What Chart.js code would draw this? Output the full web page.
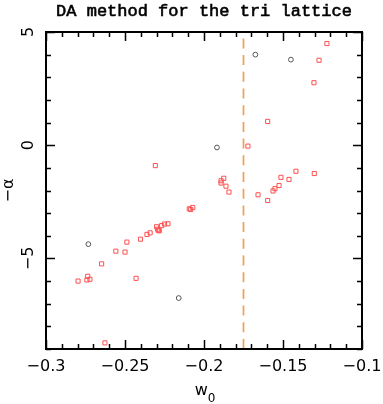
<!DOCTYPE html>
<html>
<head>
<meta charset="utf-8">
<script src="https://cdn.jsdelivr.net/npm/chart.js@4.4.1/dist/chart.umd.min.js"></script>
<style>
  html, body { margin: 0; padding: 0; background: #fff; }
  #wrap { width: 383px; height: 404px; }
</style>
</head>
<body>
<div id="wrap"><canvas id="daChart" width="383" height="404"></canvas></div>
<script>
// red squares
const squareW0 = [
  -0.1222, -0.1272, -0.1304, -0.1597, -0.1722, -0.1658, -0.1597, -0.1563, -0.1551, -0.1525,
  -0.1513, -0.1462, -0.1418, -0.1302, -0.1875, -0.1892, -0.1892, -0.1861, -0.1842, -0.2308,
  -0.2093, -0.2084, -0.2071, -0.2797, -0.2736, -0.2741, -0.2722, -0.2648, -0.2558, -0.2500,
  -0.2488, -0.2430, -0.2402, -0.2361, -0.2341, -0.2300, -0.2293, -0.2289, -0.2283, -0.2268,
  -0.2250, -0.2228, -0.2627
]
const squareAlpha = [
  4.49, 3.75, 2.76, 1.05, -0.04, -2.19, -2.44, -2.02, -1.92, -1.78,
  -1.42, -1.51, -1.15, -1.25, -1.46, -1.57, -1.67, -1.81, -2.07, -0.90,
  -2.81, -2.84, -2.75, -6.00, -5.79, -5.95, -5.92, -5.24, -4.68, -4.72,
  -4.28, -5.88, -4.15, -3.94, -3.87, -3.60, -3.71, -3.76, -3.78, -3.55,
  -3.48, -3.47, -8.73
]
// grey circles
const circleW0 = [-0.1675, -0.1450, -0.1918, -0.2732, -0.2160]
const circleAlpha = [4.00, 3.78, -0.10, -4.37, -6.75]

// vertical dashed line
const criticalW0 = -0.175

// axes
const xRange = [-0.3, -0.1]
const yRange = [-9, 5]
const xTickLabels = [-0.3, -0.25, -0.2, -0.15, -0.1]
const yTickLabels = [-5, 0, 5]
const xMinorStep = 0.01
const yMinorStep = 1

const toPoints = (xs, ys) => xs.map((x, i) => ({ x: x, y: ys[i] }))
const fmt = (v) => String(v).replace("-", "\u2212")

// cadre, graduations et textes
const framePlugin = {
  id: "frame",
  afterDraw(chart) {
    const ctx = chart.ctx
    const a = chart.chartArea
    const xs = chart.scales.x
    const ys = chart.scales.y
    ctx.save()
    ctx.strokeStyle = "#000"
    ctx.fillStyle = "#000"

    // ticks (inward, on all four sides)
    ctx.lineWidth = 1.5
    ctx.beginPath()
    const nx = Math.round((xRange[1] - xRange[0]) / xMinorStep)
    for (let i = 0; i <= nx; i++) {
      const v = xRange[0] + i * xMinorStep
      const major = xTickLabels.some((t) => Math.abs(t - v) < 1e-6)
      const len = major ? 9 : 5
      const px = Math.round(xs.getPixelForValue(v)) + 0.5
      ctx.moveTo(px, a.bottom); ctx.lineTo(px, a.bottom - len)
      ctx.moveTo(px, a.top); ctx.lineTo(px, a.top + len)
    }
    const ny = Math.round((yRange[1] - yRange[0]) / yMinorStep)
    for (let i = 0; i <= ny; i++) {
      const v = yRange[0] + i * yMinorStep
      const major = yTickLabels.includes(v)
      const len = major ? 9 : 5
      const py = Math.round(ys.getPixelForValue(v)) + 0.5
      ctx.moveTo(a.left, py); ctx.lineTo(a.left + len, py)
      ctx.moveTo(a.right, py); ctx.lineTo(a.right - len, py)
    }
    ctx.stroke()

    ctx.lineWidth = 2
    ctx.strokeRect(a.left, a.top, a.right - a.left, a.bottom - a.top)

    // x tick labels
    ctx.font = "16px 'DejaVu Sans'"
    ctx.textAlign = "center"
    ctx.textBaseline = "alphabetic"
    xTickLabels.forEach((t) => {
      ctx.fillText(fmt(t), xs.getPixelForValue(t), a.bottom + 22)
    })

    // y tick labels (rotated)
    yTickLabels.forEach((t) => {
      ctx.save()
      ctx.translate(a.left - 13, ys.getPixelForValue(t))
      ctx.rotate(-Math.PI / 2)
      ctx.fillText(fmt(t), 0, 0)
      ctx.restore()
    })

    // y title
    ctx.save()
    ctx.translate(13, (a.top + a.bottom) / 2)
    ctx.rotate(-Math.PI / 2)
    ctx.fillText("\u2212\u03b1", 0, 0)
    ctx.restore()

    // x title w0
    const cx = (a.left + a.right) / 2 + 1
    ctx.font = "16px 'DejaVu Sans'"
    const ww = ctx.measureText("w").width
    ctx.font = "12px 'DejaVu Sans'"
    const zw = ctx.measureText("0").width
    const x0 = cx - (ww + zw) / 2
    ctx.textAlign = "left"
    ctx.font = "16px 'DejaVu Sans'"
    ctx.fillText("w", x0, a.bottom + 46)
    ctx.font = "12px 'DejaVu Sans'"
    ctx.fillText("0", x0 + ww, a.bottom + 53)

    // title (slightly thickened)
    ctx.font = "17px 'Liberation Mono'"
    ctx.textAlign = "center"
    ctx.lineWidth = 0.6
    const tx = (a.left + a.right) / 2
    ctx.fillText("DA method for the tri lattice", tx, 16)
    ctx.strokeText("DA method for the tri lattice", tx, 16)
    ctx.restore()
  },
}

new Chart(document.getElementById("daChart"), {
  type: "scatter",
  data: {
    datasets: [
      {
        label: "tri",
        data: toPoints(squareW0, squareAlpha),
        pointStyle: "rect",
        pointRadius: 2.9,
        borderColor: "rgb(255, 80, 80)",
        backgroundColor: "rgba(0,0,0,0)",
        borderWidth: 1,
      },
      {
        label: "other",
        data: toPoints(circleW0, circleAlpha),
        pointStyle: "circle",
        pointRadius: 2.4,
        borderColor: "#555",
        backgroundColor: "rgba(0,0,0,0)",
        borderWidth: 1,
      },
      {
        type: "line",
        label: "critical",
        data: [{ x: criticalW0, y: yRange[0] }, { x: criticalW0, y: yRange[1] }],
        borderColor: "#f0a050",
        borderWidth: 1.7,
        borderDash: [10, 6.7],
        pointRadius: 0,
        fill: false,
      },
    ],
  },
  options: {
    responsive: false,
    animation: false,
    layout: { padding: { left: 46, right: 21, top: 32, bottom: 55 } },
    plugins: { legend: { display: false }, tooltip: { enabled: false } },
    scales: {
      x: { type: "linear", min: xRange[0], max: xRange[1], display: false },
      y: { type: "linear", min: yRange[0], max: yRange[1], display: false },
    },
  },
  plugins: [framePlugin],
})
</script>
</body>
</html>
